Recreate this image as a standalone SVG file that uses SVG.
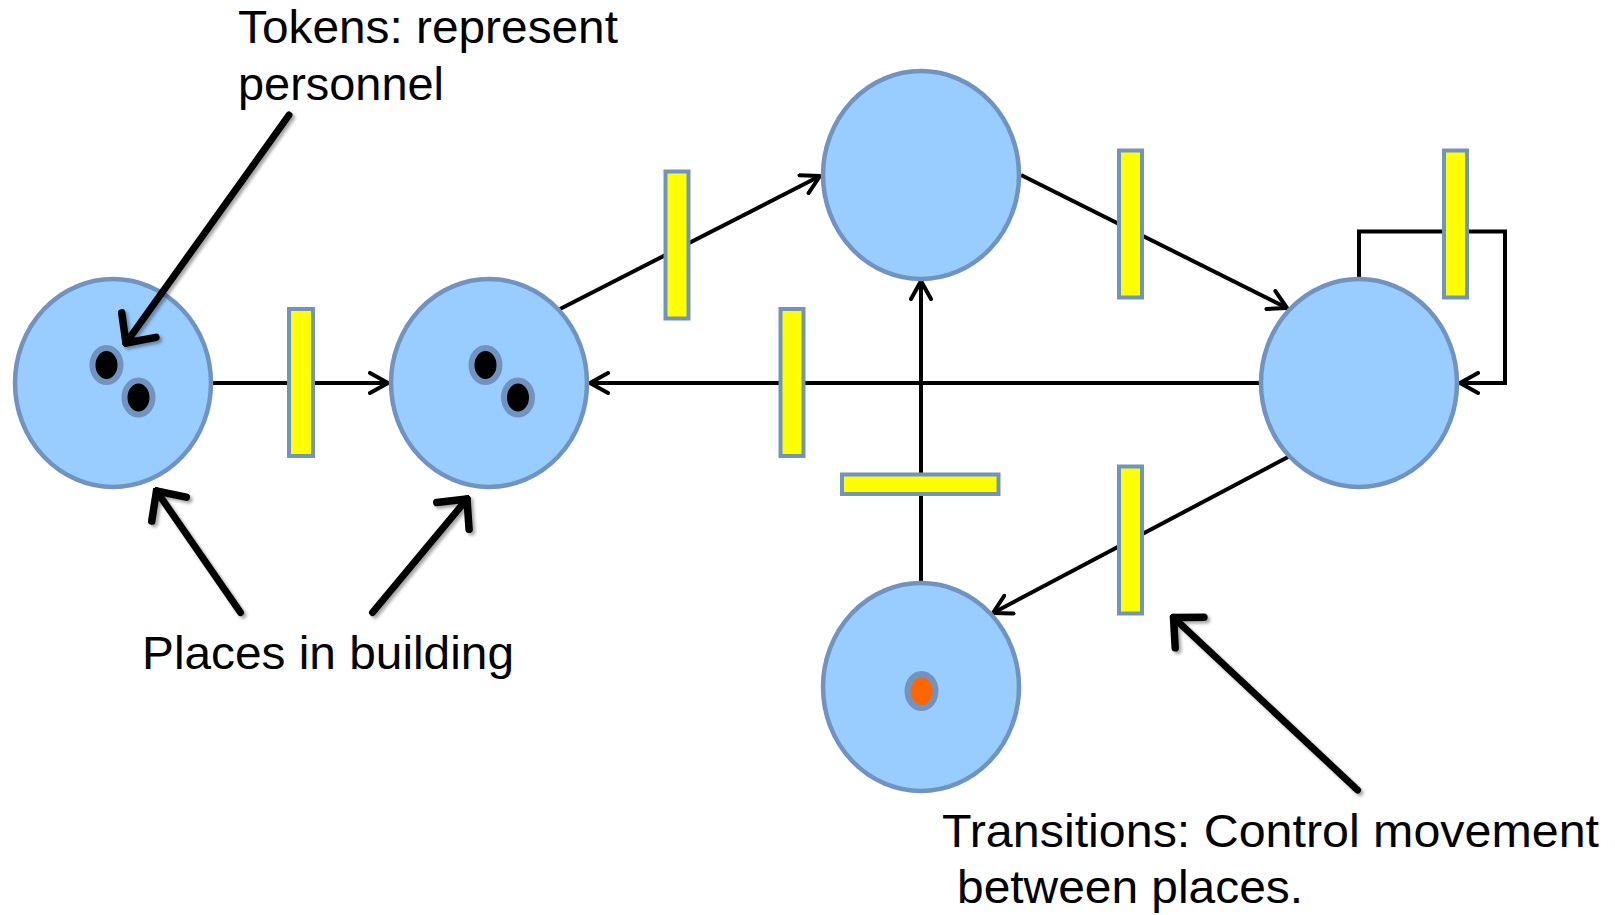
<svg xmlns="http://www.w3.org/2000/svg" width="1615" height="915" viewBox="0 0 1615 915">
<style>
.place{fill:#99ccff;stroke:#7094bf;stroke-width:4.5}
.trans{fill:#ffff00;stroke:#7094bf;stroke-width:4}
.tok{fill:#000;stroke:#7094bf;stroke-width:6}
.tok2{fill:#ff6600;stroke:#7094bf;stroke-width:6}
.arc{fill:none;stroke:#000;stroke-width:4}
.ann{fill:none;stroke:#000;stroke-width:7;stroke-linecap:round}
text{font-family:"Liberation Sans",Arial,sans-serif;font-size:46px;fill:#000}
</style>
<defs>
<marker id="ah" viewBox="0 0 22 24" refX="20" refY="12" markerWidth="22" markerHeight="24" markerUnits="userSpaceOnUse" orient="auto">
<path d="M2,2 L20,12 L2,22" fill="none" stroke="#000" stroke-width="4" stroke-linecap="round" stroke-linejoin="round"/>
</marker>
<marker id="big" viewBox="0 0 34 60" refX="30" refY="30" markerWidth="34" markerHeight="60" markerUnits="userSpaceOnUse" orient="auto">
<path d="M8,9 L30,30 L8,51" fill="none" stroke="#000" stroke-width="7.5" stroke-linecap="round" stroke-linejoin="miter"/>
</marker>
<filter id="sh" x="-20%" y="-20%" width="140%" height="140%">
<feDropShadow dx="2.5" dy="2.5" stdDeviation="1.8" flood-color="#000" flood-opacity="0.35"/>
</filter>
</defs>

<g id="connectors">
<line class="arc" x1="213" y1="383" x2="388" y2="383" marker-end="url(#ah)"/>
<line class="arc" x1="560" y1="309" x2="820" y2="176" marker-end="url(#ah)"/>
<line class="arc" x1="1021" y1="175" x2="1287" y2="308" marker-end="url(#ah)"/>
<line class="arc" x1="1260" y1="383" x2="590" y2="383" marker-end="url(#ah)"/>
<polyline class="arc" points="1359,278 1359,231.5 1505,231.5 1505,383 1460,383" marker-end="url(#ah)"/>
<line class="arc" x1="921" y1="582" x2="921" y2="281" marker-end="url(#ah)"/>
<line class="arc" x1="1288" y1="457" x2="993" y2="613" marker-end="url(#ah)"/>
</g>

<g id="place1">
<ellipse class="place" cx="113" cy="383" rx="98" ry="104"/>
<ellipse class="tok" cx="106.5" cy="365" rx="14" ry="17"/>
<ellipse class="tok" cx="138.5" cy="397.5" rx="14" ry="17"/>
</g>
<g id="place2">
<ellipse class="place" cx="489" cy="383" rx="98" ry="104"/>
<ellipse class="tok" cx="485.5" cy="365" rx="14" ry="17"/>
<ellipse class="tok" cx="518" cy="397.5" rx="14" ry="17"/>
</g>
<g id="place3">
<ellipse class="place" cx="921" cy="175" rx="98" ry="104"/>
</g>
<g id="place4">
<ellipse class="place" cx="1359" cy="383" rx="98" ry="104"/>
</g>
<g id="place5">
<ellipse class="place" cx="921" cy="687" rx="98" ry="104"/>
<ellipse class="tok2" cx="921.5" cy="691" rx="14" ry="17"/>
</g>

<g id="t1"><rect class="trans" x="289" y="309" width="24" height="147"/></g>
<g id="t2"><rect class="trans" x="665.5" y="171.5" width="23" height="147"/></g>
<g id="t3"><rect class="trans" x="780.5" y="309" width="23" height="147"/></g>
<g id="t4"><rect class="trans" x="842" y="474.5" width="156.5" height="19.5"/></g>
<g id="t5"><rect class="trans" x="1119" y="150.5" width="23" height="147"/></g>
<g id="t6"><rect class="trans" x="1444" y="150.5" width="23" height="147"/></g>
<g id="t7"><rect class="trans" x="1119" y="466.5" width="23" height="147"/></g>

<g id="annotations" filter="url(#sh)">
<line class="ann" x1="289" y1="115" x2="126" y2="343" marker-end="url(#big)"/>
<line class="ann" x1="240.5" y1="612.5" x2="156.5" y2="491" marker-end="url(#big)"/>
<line class="ann" x1="372.5" y1="612.5" x2="467" y2="499" marker-end="url(#big)"/>
<line class="ann" x1="1357.5" y1="790" x2="1173.5" y2="617.5" marker-end="url(#big)"/>
</g>

<g id="labels">
<text x="238" y="43" textLength="380" lengthAdjust="spacingAndGlyphs">Tokens: represent</text>
<text x="238" y="100" textLength="206" lengthAdjust="spacingAndGlyphs">personnel</text>
<text x="142" y="669" textLength="372" lengthAdjust="spacingAndGlyphs">Places in building</text>
<text x="942" y="847" textLength="657" lengthAdjust="spacingAndGlyphs">Transitions: Control movement</text>
<text x="957" y="903" textLength="346" lengthAdjust="spacingAndGlyphs">between places.</text>
</g>
</svg>
